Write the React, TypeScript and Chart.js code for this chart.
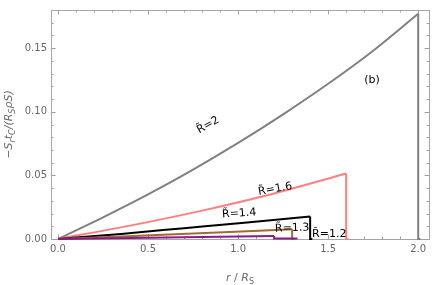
import React, { useEffect, useRef } from "react";
import { Chart, registerables } from "chart.js";

Chart.register(...registerables);

// R̃ = 2 (curve, then drop to zero)
const rGray = [0, 0.25, 0.5, 0.75, 1.0, 1.25, 1.5, 1.75, 2.0];
const yGray = [0, 0.017, 0.035, 0.0545, 0.0755, 0.098, 0.122, 0.148, 0.177];
const rGrayDrop = [2.0, 2.012];
const yGrayDrop = [0, 0];
// R̃ = 1.6
const rPink = [0, 0.4, 0.8, 1.2, 1.6];
const yPink = [0, 0.0105, 0.0223, 0.0358, 0.0515];
const rPinkDrop = [1.6, 1.612];
const yPinkDrop = [0, 0];
// R̃ = 1.4
const rBlack = [0, 0.35, 0.7, 1.05, 1.4];
const yBlack = [0, 0.004, 0.0085, 0.013, 0.0177];
const rBlackDrop = [1.4, 1.412];
const yBlackDrop = [0, 0];
// R̃ = 1.3
const rBrown = [0, 0.65, 1.3];
const yBrown = [0, 0.0037, 0.0077];
const rBrownDrop = [1.3, 1.312];
const yBrownDrop = [0, 0];
// R̃ = 1.2
const rPurple = [0, 0.6, 1.2];
const yPurple = [0, 0.0011, 0.0023];
const rPurpleDrop = [1.2, 1.33];
const yPurpleDrop = [0.0004, 0.0004];

const xTicks = [0, 0.5, 1.0, 1.5, 2.0];
const xTickLabels = ["0.0", "0.5", "1.0", "1.5", "2.0"];
const yTicks = [0, 0.05, 0.1, 0.15];
const yTickLabels = ["0.00", "0.05", "0.10", "0.15"];

const curveLabels = [
  { text: "R\u0303=2", r: 0.833, y: 0.0895, rot: -30 },
  { text: "R\u0303=1.6", r: 1.206, y: 0.0392, rot: -10 },
  { text: "R\u0303=1.4", r: 1.006, y: 0.02, rot: -4 },
  { text: "R\u0303=1.3", r: 1.3, y: 0.0085, rot: -2 },
  { text: "R\u0303=1.2", r: 1.506, y: 0.0038, rot: 0 },
  { text: "(b)", r: 1.744, y: 0.125, rot: 0 },
];

const zip = (xs: number[], ys: number[]) => xs.map((x, i) => ({ x, y: ys[i] }));

type Seg = { t: string; sub?: boolean; it?: boolean };

function drawRich(ctx: CanvasRenderingContext2D, segs: Seg[], size: number) {
  const fontFor = (s: Seg) =>
    `${s.it ? "italic " : ""}${s.sub ? Math.round(size * 0.72) : size}px "DejaVu Sans"`;
  let total = 0;
  for (const s of segs) {
    ctx.font = fontFor(s);
    total += ctx.measureText(s.t).width;
  }
  let x = -total / 2;
  for (const s of segs) {
    ctx.font = fontFor(s);
    ctx.fillText(s.t, x, s.sub ? size * 0.3 : 0);
    x += ctx.measureText(s.t).width;
  }
}

const framePlugin = {
  id: "frameTicks",
  beforeDatasetsDraw(chart: any) {
    const { ctx, chartArea: a, scales } = chart;
    const xs = scales.x;
    const ys = scales.y;
    ctx.save();
    ctx.strokeStyle = "#a6a6a6";
    ctx.lineWidth = 1;
    ctx.strokeRect(a.left + 0.5, a.top + 0.5, a.right - a.left, a.bottom - a.top);
    ctx.strokeStyle = "#a0a0a0";
    ctx.beginPath();
    for (let i = 0; i <= 20; i++) {
      const v = i / 10;
      const px = Math.round(xs.getPixelForValue(v)) + 0.5;
      const len = i % 5 === 0 ? 4.5 : 2.5;
      ctx.moveTo(px, a.bottom);
      ctx.lineTo(px, a.bottom - len);
      ctx.moveTo(px, a.top);
      ctx.lineTo(px, a.top + len);
    }
    for (let i = 0; i <= 17; i++) {
      const v = i / 100;
      const py = Math.round(ys.getPixelForValue(v)) + 0.5;
      const len = i % 5 === 0 ? 4.5 : 2.5;
      ctx.moveTo(a.left, py);
      ctx.lineTo(a.left + len, py);
      ctx.moveTo(a.right, py);
      ctx.lineTo(a.right - len, py);
    }
    ctx.stroke();
    ctx.restore();
  },
  afterDraw(chart: any) {
    const { ctx, chartArea: a, scales } = chart;
    const xs = scales.x;
    const ys = scales.y;
    ctx.save();
    ctx.fillStyle = "#000";
    ctx.textAlign = "center";
    ctx.textBaseline = "middle";
    ctx.font = '11px "DejaVu Sans"';
    for (const l of curveLabels) {
      ctx.save();
      ctx.translate(xs.getPixelForValue(l.r), ys.getPixelForValue(l.y));
      ctx.rotate((l.rot * Math.PI) / 180);
      ctx.fillText(l.text, 0, 0);
      ctx.restore();
    }
    // axis titles
    ctx.fillStyle = "#6a6a6a";
    ctx.textAlign = "left";
    ctx.textBaseline = "alphabetic";
    ctx.save();
    ctx.translate((a.left + a.right) / 2, 281);
    drawRich(ctx, [{ t: "r", it: true }, { t: " / " }, { t: "R", it: true }, { t: "S", sub: true }], 11);
    ctx.restore();
    ctx.save();
    ctx.translate(12, (a.top + a.bottom) / 2);
    ctx.rotate(-Math.PI / 2);
    drawRich(
      ctx,
      [
        { t: "\u2212S", it: true },
        { t: "r", sub: true, it: true },
        { t: "t", it: true },
        { t: "C", sub: true, it: true },
        { t: "/(", it: true },
        { t: "R", it: true },
        { t: "S", sub: true, it: true },
        { t: "\u03C1S)", it: true },
      ],
      11
    );
    ctx.restore();
    ctx.restore();
  },
};

export default function App() {
  const ref = useRef<HTMLCanvasElement>(null);
  useEffect(() => {
    if (!ref.current) return;
    const curve = (xs: number[], ys: number[], color: string) => ({
      data: zip(xs, ys),
      borderColor: color,
      borderWidth: 2,
      pointRadius: 0,
      fill: false,
      cubicInterpolationMode: "monotone",
      clip: false as any,
    });
    // drop: from the curve's last point straight down and along the axis
    const drop = (xs: number[], ys: number[], cx: number[], cy: number[], color: string) => ({
      data: [{ x: cx[cx.length - 1], y: cy[cy.length - 1] }, ...zip(xs, ys)],
      borderColor: color,
      borderWidth: 2,
      pointRadius: 0,
      fill: false,
      tension: 0,
      clip: false as any,
    });
    const purple = "#8a1a8a";
    const brown = "#a06a30";
    const black = "#000000";
    const pink = "#ff7f7f";
    const gray = "#808080";
    const chart = new Chart(ref.current, {
      type: "line",
      data: {
        datasets: [
          curve(rPurple, yPurple, purple),
          drop(rPurpleDrop, yPurpleDrop, rPurple, yPurple, purple),
          curve(rBrown, yBrown, brown),
          drop(rBrownDrop, yBrownDrop, rBrown, yBrown, brown),
          curve(rBlack, yBlack, black),
          drop(rBlackDrop, yBlackDrop, rBlack, yBlack, black),
          curve(rPink, yPink, pink),
          drop(rPinkDrop, yPinkDrop, rPink, yPink, pink),
          curve(rGray, yGray, gray),
          drop(rGrayDrop, yGrayDrop, rGray, yGray, gray),
        ] as any,
      },
      options: {
        animation: false,
        responsive: false,
        layout: { padding: { left: 0, top: 5, right: 7, bottom: 0 } },
        plugins: { legend: { display: false }, tooltip: { enabled: false } },
        scales: {
          x: {
            type: "linear",
            min: -0.039,
            max: 2.06,
            grid: { display: false, drawTicks: false },
            border: { display: false },
            ticks: {
              padding: 4,
              color: "#666",
              font: { family: "DejaVu Sans", size: 10 },
              callback: (v: any) => {
                const i = xTicks.findIndex((t) => Math.abs(t - v) < 1e-9);
                return i >= 0 ? xTickLabels[i] : "";
              },
            },
            afterBuildTicks: (s: any) => {
              s.ticks = xTicks.map((v) => ({ value: v }));
            },
            afterFit: (s: any) => {
              s.height = 46;
            },
          },
          y: {
            type: "linear",
            min: 0,
            max: 0.18,
            grid: { display: false, drawTicks: false },
            border: { display: false },
            ticks: {
              padding: 4,
              color: "#666",
              font: { family: "DejaVu Sans", size: 10 },
              callback: (v: any) => {
                const i = yTicks.findIndex((t) => Math.abs(t - v) < 1e-9);
                return i >= 0 ? yTickLabels[i] : "";
              },
            },
            afterBuildTicks: (s: any) => {
              s.ticks = yTicks.map((v) => ({ value: v }));
            },
            afterFit: (s: any) => {
              s.width = 51;
            },
          },
        },
      },
      plugins: [framePlugin],
    });
    return () => chart.destroy();
  }, []);
  return (
    <canvas
      ref={ref}
      width={436}
      height={285}
      style={{ position: "fixed", left: 0, top: 0, width: 436, height: 285 }}
    />
  );
}
